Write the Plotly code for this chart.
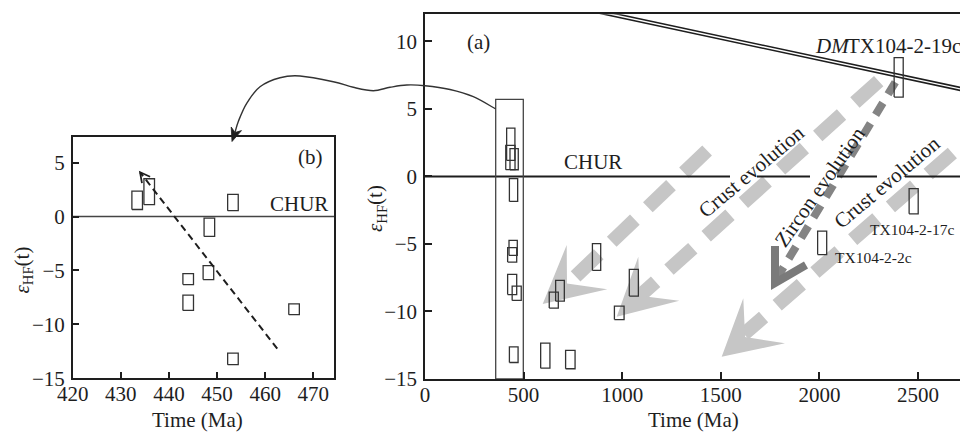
import math
import plotly.graph_objects as go

W, H = 960, 432
FONT = "Liberation Serif"
INK = "#1e1e1e"
BOX = "#333333"
LIGHT = "#c6c6c6"
DARK = "#848484"

# ---------------- data ----------------
# panel (b): zoom on the ~450 Ma zircon group
b_time = [433.4, 435.9, 453.3, 448.4, 448.2, 444.0, 444.0, 466.0, 453.3]
b_eps = [1.5, 2.3, 1.3, -1.0, -5.2, -5.8, -8.0, -8.6, -13.2]
b_eps_err = [0.85, 1.2, 0.76, 0.85, 0.65, 0.51, 0.71, 0.5, 0.54]
b_time_err = [1.1] * len(b_time)

# panel (a): all zircons
a_time = [435, 433, 452, 449, 447, 442, 442, 465, 450, 610, 737, 653, 684.5,
          870, 985, 1059, 2402, 2478, 2014]
a_eps = [2.38, 1.4, 1.27, -1.01, -5.29, -5.81, -8.0, -8.65, -13.2, -13.27,
         -13.56, -9.16, -8.47, -5.97, -10.1, -7.87, 7.33, -1.84, -4.92]
a_eps_err = [1.2, 0.9, 0.78, 0.84, 0.56, 0.53, 0.75, 0.53, 0.58, 0.93, 0.68,
             0.59, 0.77, 0.99, 0.5, 0.99, 1.46, 0.93, 0.87]
a_time_err = [21, 23.5, 21, 21, 21, 23, 23, 23, 22, 23.5, 24, 23, 22, 21,
              24.5, 23, 23, 23, 23]

chur_eps = 0.0
dm_time = [0, 2800]
dm_eps = [14.95, 6.21]
group_box_time = [358.5, 498.5]
group_box_eps = [-15, 5.7]
b_trend_time = [462.5, 434.0]
b_trend_eps = [-12.25, 4.1]

b_xrange, b_yrange = [420, 474.3], [-15, 7.4]
a_xrange, a_yrange = [0, 2713], [-15, 12]
b_xticks = [420, 430, 440, 450, 460, 470]
b_yticks = [-15, -10, -5, 0, 5]
a_xticks = [0, 500, 1000, 1500, 2000, 2500]
a_yticks = [-15, -10, -5, 0, 5, 10]

# ---------------- geometry (pixels) ----------------
B_L, B_R, B_T, B_B = 72.7, 334.0, 136.7, 378.3
A_L, A_R, A_T, A_B = 425.0, 960.0, 14.3, 379.0


def paper(px, py):
    return px / W, 1 - py / H


def b_pix(t, e):
    x = B_L + (t - b_xrange[0]) / (b_xrange[1] - b_xrange[0]) * (B_R - B_L)
    y = B_B - (e - b_yrange[0]) / (b_yrange[1] - b_yrange[0]) * (B_B - B_T)
    return x, y


def path_from_px(pts, close=False):
    s = ""
    for i, (x, y) in enumerate(pts):
        px_, py_ = paper(x, y)
        s += ("M" if i == 0 else "L") + f"{px_:.5f},{py_:.5f} "
    return s + ("Z" if close else "")


def smooth_path(pts):
    n = len(pts)
    P = [paper(*p) for p in pts]
    s = f"M{P[0][0]:.5f},{P[0][1]:.5f}"
    for i in range(n - 1):
        p0 = P[i - 1] if i > 0 else P[i]
        p1, p2 = P[i], P[i + 1]
        p3 = P[i + 2] if i + 2 < n else P[i + 1]
        c1 = (p1[0] + (p2[0] - p0[0]) / 6, p1[1] + (p2[1] - p0[1]) / 6)
        c2 = (p2[0] - (p3[0] - p1[0]) / 6, p2[1] - (p3[1] - p1[1]) / 6)
        s += f" C{c1[0]:.5f},{c1[1]:.5f} {c2[0]:.5f},{c2[1]:.5f} {p2[0]:.5f},{p2[1]:.5f}"
    return s


def rect_xy(ts, es, dts, des):
    xs, ys = [], []
    for t, e, dt, de in zip(ts, es, dts, des):
        xs += [t - dt, t + dt, t + dt, t - dt, t - dt, None]
        ys += [e - de, e - de, e + de, e + de, e - de, None]
    return xs, ys


fig = go.Figure()

# panel (b) traces
fig.add_trace(go.Scatter(x=b_xrange, y=[chur_eps, chur_eps], mode="lines",
                         line=dict(color="#444444", width=1.5),
                         xaxis="x", yaxis="y", hoverinfo="skip", showlegend=False))
bx, by = rect_xy(b_time, b_eps, b_time_err, b_eps_err)
fig.add_trace(go.Scatter(x=bx, y=by, mode="lines", line=dict(color=BOX, width=1.3),
                         xaxis="x", yaxis="y", hoverinfo="skip", showlegend=False))

# panel (a) traces
fig.add_trace(go.Scatter(x=a_xrange, y=[chur_eps, chur_eps], mode="lines",
                         line=dict(color=INK, width=2),
                         xaxis="x2", yaxis="y2", hoverinfo="skip", showlegend=False))
fig.add_trace(go.Scatter(x=dm_time, y=dm_eps, mode="lines",
                         line=dict(color=INK, width=4.5),
                         xaxis="x2", yaxis="y2", hoverinfo="skip", showlegend=False))
fig.add_trace(go.Scatter(x=dm_time, y=dm_eps, mode="lines",
                         line=dict(color="white", width=1.4),
                         xaxis="x2", yaxis="y2", hoverinfo="skip", showlegend=False))
gx = [group_box_time[0], group_box_time[1], group_box_time[1], group_box_time[0], group_box_time[0]]
gy = [group_box_eps[0], group_box_eps[0], group_box_eps[1], group_box_eps[1], group_box_eps[0]]
fig.add_trace(go.Scatter(x=gx, y=gy, mode="lines", line=dict(color="#444444", width=1.3),
                         xaxis="x2", yaxis="y2", hoverinfo="skip", showlegend=False))
ax_, ay_ = rect_xy(a_time, a_eps, a_time_err, a_eps_err)
fig.add_trace(go.Scatter(x=ax_, y=ay_, mode="lines", line=dict(color=BOX, width=1.3),
                         xaxis="x2", yaxis="y2", hoverinfo="skip", showlegend=False))

shapes = []

# gray "evolution" arrows (decorations, pixel geometry)
bands = [
    ((707.1, 150.5), (568.0, 283.6)),
    ((878.7, 81.1), (639.9, 295.8)),
    ((990.1, 120.3), (744.0, 334.0)),
]
heads = [
    [(542.7, 304.0), (566.7, 245.0), (567.0, 283.6), (607.3, 289.3)],
    [(616.7, 316.7), (638.3, 256.7), (639.9, 295.8), (679.3, 300.7)],
    [(721.7, 356.7), (743.3, 298.3), (745.1, 337.0), (785.0, 343.3)],
]
for (p0, p1) in bands:
    x0, y0 = paper(*p0)
    x1, y1 = paper(*p1)
    shapes.append(dict(type="line", xref="paper", yref="paper", x0=x0, y0=y0, x1=x1, y1=y1,
                       line=dict(color=LIGHT, width=14, dash="32px,18px"), layer="below"))
for hd in heads:
    shapes.append(dict(type="path", xref="paper", yref="paper", path=path_from_px(hd, True),
                       fillcolor=LIGHT, line=dict(width=0), layer="below"))
# zircon evolution (darker)
zx0, zy0 = paper(895.3, 82.3)
zx1, zy1 = paper(777.0, 278.0)
shapes.append(dict(type="line", xref="paper", yref="paper", x0=zx0, y0=zy0, x1=zx1, y1=zy1,
                   line=dict(color=DARK, width=8, dash="14px,10px"), layer="below"))
shapes.append(dict(type="path", xref="paper", yref="paper",
                   path=path_from_px([(775.0, 246.0), (775.0, 283.0), (806.0, 265.0)]),
                   line=dict(color="#7a7a7a", width=8), layer="below"))

# white breaks in CHUR line where the rotated labels cross it
for g0, g1 in [(730, 757), (810, 837), (877, 905)]:
    x0, y0 = paper(g0, 176.4)
    x1, _ = paper(g1, 176.4)
    shapes.append(dict(type="line", xref="paper", yref="paper", x0=x0, y0=y0, x1=x1, y1=y0,
                       line=dict(color="white", width=4), layer="above"))

# dashed trend arrow in (b)
shapes.append(dict(type="line", xref="x", yref="y", x0=b_trend_time[0], y0=b_trend_eps[0],
                   x1=b_trend_time[1], y1=b_trend_eps[1],
                   line=dict(color=INK, width=2, dash="7px,4.5px"), layer="above"))
tip = b_pix(b_trend_time[1], b_trend_eps[1])
tail = b_pix(b_trend_time[0], b_trend_eps[0])
dx, dy = tail[0] - tip[0], tail[1] - tip[1]
L = (dx * dx + dy * dy) ** 0.5
dx, dy = dx / L, dy / L
arms = []
for ang in (28, -28):
    c, s = math.cos(math.radians(ang)), math.sin(math.radians(ang))
    rx, ry = dx * c - dy * s, dx * s + dy * c
    arms.append((tip[0] + 11 * rx, tip[1] + 11 * ry))
shapes.append(dict(type="path", xref="paper", yref="paper",
                   path=path_from_px([arms[0], tip, arms[1]]),
                   line=dict(color=INK, width=1.8), layer="above"))

# curved connector from box in (a) to panel (b)
curve_pts = [(495.7, 109), (473.3, 96.7), (450, 89.5), (425, 85.7), (406.7, 85),
             (390, 87.3), (373.3, 90.7), (353.3, 87.3), (333.3, 81.7), (300, 76),
             (280, 77.7), (260, 86.7), (246.7, 103.3), (238.5, 121), (235, 132.5)]
shapes.append(dict(type="path", xref="paper", yref="paper", path=smooth_path(curve_pts),
                   line=dict(color="#333333", width=1.4), layer="above"))
shapes.append(dict(type="path", xref="paper", yref="paper",
                   path=path_from_px([(232, 141.5), (241.5, 130.6), (235, 132.5), (231.2, 127)], True),
                   fillcolor=INK, line=dict(color=INK, width=0.8), layer="above"))

annotations = []


def txt(text, x, y, xref, yref, size=21, angle=0, xanchor="center"):
    annotations.append(dict(text=text, x=x, y=y, xref=xref, yref=yref, showarrow=False,
                            font=dict(family=FONT, size=size, color=INK), textangle=angle,
                            xanchor=xanchor, yanchor="middle"))


txt("(b)", 469.5, 5.52, "x", "y")
txt("CHUR", 467.0, 1.14, "x", "y")
txt("(a)", 273.8, 9.95, "x2", "y2")
txt("CHUR", 851.9, 1.07, "x2", "y2")
txt("<i>DM</i>", 1967.5, 9.65, "x2", "y2", xanchor="left")
txt("TX104-2-19c", 2129.8, 9.69, "x2", "y2", xanchor="left")
txt("TX104-2-17c", 2469.6, -3.91, "x2", "y2", size=15.5)
txt("TX104-2-2c", 2274.4, -6.0, "x2", "y2", size=15.5)
txt("Crust evolution", 1658.2, 0.40, "x2", "y2", angle=-40)
txt("Zircon evolution", 2003.1, -0.82, "x2", "y2", angle=-55)
txt("Crust evolution", 2345.4, -0.45, "x2", "y2", angle=-40)

for (cx, cy) in [(197, 420), (693, 420)]:
    px_, py_ = paper(cx, cy)
    txt("Time (Ma)", px_, py_, "paper", "paper")
for (cx, cy) in [(22.5, 270), (376.7, 208.3)]:
    px_, py_ = paper(cx, cy)
    txt("<i>ε</i><sub>HF</sub>(t)", px_, py_, "paper", "paper", angle=-90)

axis_common = dict(showgrid=False, zeroline=False, showline=True, linecolor=INK, linewidth=1.5,
                   ticks="inside", ticklen=7, tickwidth=1.5, tickcolor=INK, automargin=False,
                   tickfont=dict(family=FONT, size=21, color=INK), fixedrange=True)

fig.update_layout(
    template="none",
    width=W, height=H, autosize=False,
    margin=dict(l=0, r=0, t=0, b=0, pad=0),
    font=dict(family=FONT, size=21, color=INK),
    paper_bgcolor="white", plot_bgcolor="rgba(0,0,0,0)",
    showlegend=False,
    xaxis=dict(domain=[B_L / W, B_R / W], range=b_xrange, tickvals=b_xticks,
               mirror=True, anchor="y", ticklabelstandoff=-4, **axis_common),
    yaxis=dict(domain=[1 - B_B / H, 1 - B_T / H], range=b_yrange, tickvals=b_yticks,
               mirror=True, anchor="x", ticklabelstandoff=2, **axis_common),
    xaxis2=dict(domain=[A_L / W, A_R / W], range=a_xrange, tickvals=a_xticks,
                mirror=True, anchor="y2", ticklabelstandoff=-4, **axis_common),
    yaxis2=dict(domain=[1 - A_B / H, 1 - A_T / H], range=a_yrange, tickvals=a_yticks,
                mirror=False, anchor="x2", ticklabelstandoff=2, **axis_common),
    shapes=shapes,
    annotations=annotations,
)

fig.write_html("out.html", post_script="document.body.style.margin='0';")
